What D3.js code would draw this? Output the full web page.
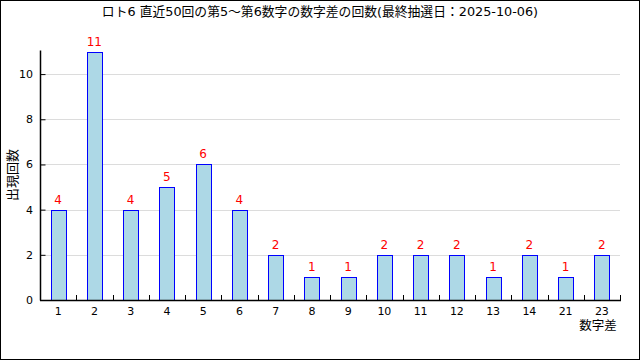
<!DOCTYPE html>
<html>
<head>
<meta charset="utf-8">
<script src="https://cdn.jsdelivr.net/npm/d3@7"></script>
<style>
  body { margin: 0; background: #fff; }
  svg text { font-family: "DejaVu Sans", "Noto Sans CJK JP", sans-serif; }
</style>
</head>
<body>
<svg class="chart" width="640" height="360"></svg>
<script>
// categories (数字差) and counts
var diffs = ["1","2","3","4","5","6","7","8","9","10","11","12","13","14","21","23"];
var counts = [4, 11, 4, 5, 6, 4, 2, 1, 1, 2, 2, 2, 1, 2, 1, 2];
var yTicks = [0, 2, 4, 6, 8, 10];

var title = "ロト6 直近50回の第5～第6数字の数字差の回数(最終抽選日：2025-10-06)";

var svg = d3.select("svg.chart");
var plotL = 40, plotR = 620, plotT = 51.5, plotB = 300;

// outer frame
svg.append("rect")
    .attr("x", 0.5).attr("y", 0.5)
    .attr("width", 639).attr("height", 359)
    .attr("fill", "#fff").attr("stroke", "#000");

var data = diffs.map(function(d, i) { return {diff: d, n: counts[i]}; });

var x = d3.scaleBand()
    .domain(diffs)
    .range([plotL, plotR])
    .paddingInner(0)
    .paddingOuter(0);
var y = d3.scaleLinear()
    .domain([0, 11])
    .range([plotB, plotT]);

var barW = 15;

// gridlines
svg.append("g").selectAll("line")
    .data(yTicks.filter(function(t) { return t > 0; }))
    .join("line")
    .attr("x1", plotL + 1).attr("x2", plotR)
    .attr("y1", function(d) { return Math.round(y(d)) + 0.5; })
    .attr("y2", function(d) { return Math.round(y(d)) + 0.5; })
    .attr("stroke", "#dcdcdc");

// bars
svg.append("g").selectAll("rect")
    .data(data)
    .join("rect")
    .attr("x", function(d) { return Math.round(x(d.diff) + x.bandwidth() / 2 - barW / 2) + 0.5; })
    .attr("y", function(d) { return Math.round(y(d.n)) + 0.5; })
    .attr("width", barW)
    .attr("height", function(d) { return Math.round(plotB) - Math.round(y(d.n)); })
    .attr("fill", "#add8e6")
    .attr("stroke", "#0000ff");

// value labels
svg.append("g").selectAll("text")
    .data(data)
    .join("text")
    .attr("x", function(d) { return x(d.diff) + x.bandwidth() / 2; })
    .attr("y", function(d) { return y(d.n) - 6; })
    .attr("text-anchor", "middle")
    .attr("font-size", 12)
    .attr("fill", "#ff0000")
    .text(function(d) { return d.n; });

// y axis ticks (inward)
var yAxis = d3.axisRight(y)
    .tickValues(yTicks)
    .tickSize(5)
    .tickFormat("");
var gy = svg.append("g")
    .attr("transform", "translate(" + (plotL + 0.5) + ",0)")
    .call(yAxis);
gy.select(".domain").remove();
gy.selectAll(".tick line").attr("stroke", "#000");
svg.append("line")
    .attr("x1", plotL + 0.5).attr("x2", plotL + 0.5)
    .attr("y1", 50.5).attr("y2", plotB + 0.5)
    .attr("stroke", "#000").attr("stroke-width", 1.5);

svg.append("g").selectAll("text")
    .data(yTicks)
    .join("text")
    .attr("x", 33)
    .attr("y", function(d) { return y(d) + 4; })
    .attr("text-anchor", "end")
    .attr("font-size", 11)
    .text(function(d) { return d; });

// x axis with ticks at band boundaries, pointing up
svg.append("line")
    .attr("x1", plotL).attr("x2", plotR + 1)
    .attr("y1", plotB + 0.5).attr("y2", plotB + 0.5)
    .attr("stroke", "#000").attr("stroke-width", 1.5);
svg.append("g").selectAll("line")
    .data(diffs.slice(1).concat(["end"]))
    .join("line")
    .attr("x1", function(d) { return Math.round(d === "end" ? plotR : x(d)) + 0.5; })
    .attr("x2", function(d) { return Math.round(d === "end" ? plotR : x(d)) + 0.5; })
    .attr("y1", plotB - 5).attr("y2", plotB)
    .attr("stroke", "#000");

svg.append("g").selectAll("text")
    .data(diffs)
    .join("text")
    .attr("x", function(d) { return x(d) + x.bandwidth() / 2; })
    .attr("y", 315)
    .attr("text-anchor", "middle")
    .attr("font-size", 11)
    .text(function(d) { return d; });

// titles
svg.append("text")
    .attr("x", 320).attr("y", 16)
    .attr("text-anchor", "middle")
    .attr("font-size", 12.8)
    .text(title);

svg.append("text")
    .attr("transform", "translate(17,175) rotate(-90)")
    .attr("text-anchor", "middle")
    .attr("font-size", 13)
    .text("出現回数");

svg.append("text")
    .attr("x", 598).attr("y", 330)
    .attr("text-anchor", "middle")
    .attr("font-size", 12.5)
    .text("数字差");
</script>
</body>
</html>
